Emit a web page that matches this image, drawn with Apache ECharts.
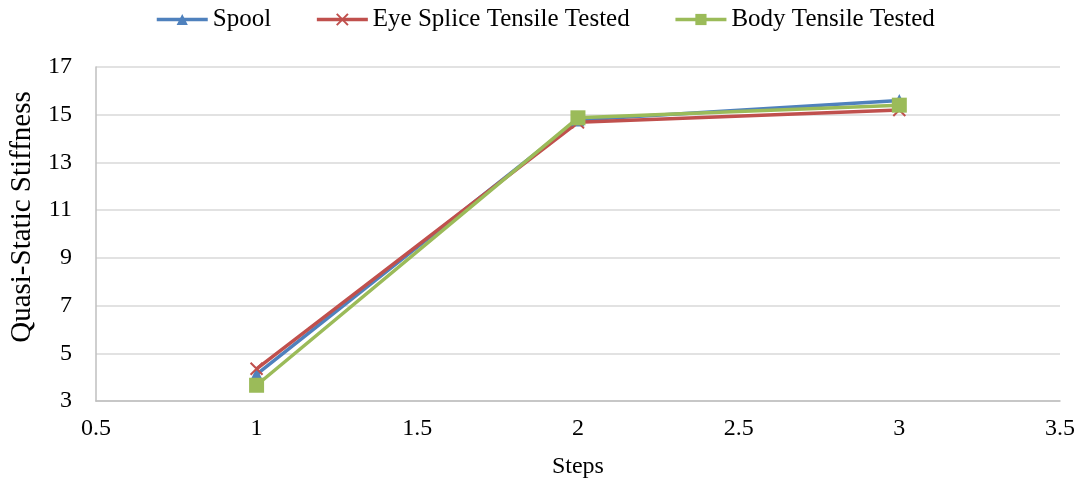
<!DOCTYPE html>
<html><head><meta charset="utf-8">
<script src="https://cdn.jsdelivr.net/npm/echarts@6/dist/echarts.min.js"></script>
<style>html,body{margin:0;padding:0;background:#fff}#c{width:1081px;height:484px}</style>
</head><body><div id="c"></div>
<script>
const steps = [1, 2, 3];
const spool = [4.12, 14.78, 15.6];
const eyeSplice = [4.35, 14.68, 15.2];
const bodyTensile = [3.66, 14.87, 15.4];
const seriesNames = ['Spool', 'Eye Splice Tensile Tested', 'Body Tensile Tested'];

const font = 'Liberation Serif, Times New Roman, serif';
const chart = echarts.init(document.getElementById('c'));
function mk(name, vals, color, symbol, size, extra) {
  return Object.assign({
    name: name, type: 'line', data: steps.map((s, i) => [s, vals[i]]),
    symbol: symbol, symbolSize: size,
    lineStyle: {color: color, width: 3.5}, itemStyle: {color: color}
  }, extra || {});
}
chart.setOption({
  animation: false,
  textStyle: {fontFamily: font},
  legend: {
    top: 2, left: 150, itemWidth: 51, itemHeight: 14, itemGap: 44,
    lineStyle: {width: 3.5},
    textStyle: {fontFamily: font, fontSize: 25, color: '#000'},
    data: seriesNames
  },
  grid: {left: 91, right: 21, top: 67, bottom: 80, containLabel: false},
  xAxis: {
    type: 'value', min: 0.5, max: 3.5, interval: 0.5,
    name: 'Steps', nameLocation: 'middle', nameGap: 54,
    nameTextStyle: {fontFamily: font, fontSize: 24, color: '#000'},
    axisLine: {show: true, lineStyle: {color: '#bfbfbf', width: 1.5}},
    axisTick: {show: false},
    splitLine: {show: false},
    axisLabel: {fontFamily: font, fontSize: 24, color: '#000', margin: 16}
  },
  yAxis: {
    type: 'value', min: 3, max: 17, interval: 2,
    name: 'Quasi-Static Stiffness', nameLocation: 'middle', nameGap: 57,
    nameTextStyle: {fontFamily: font, fontSize: 29, color: '#000', padding: [0, 0, 0, 34]},
    axisLine: {show: true, lineStyle: {color: '#bfbfbf', width: 1.5}},
    axisTick: {show: false},
    splitLine: {show: true, lineStyle: {color: '#d9d9d9', width: 1.5}},
    axisLabel: {fontFamily: font, fontSize: 24, color: '#000', margin: 24}
  },
  series: [
    mk(seriesNames[0], spool, '#4f81bd', 'triangle', 13),
    mk(seriesNames[1], eyeSplice, '#c0504d', 'path://M0,0 L10,10 M10,0 L0,10', 12,
       {itemStyle: {color: '#c0504d', borderColor: '#c0504d', borderWidth: 2}}),
    mk(seriesNames[2], bodyTensile, '#9bbb59', 'rect', 15)
  ]
});
</script></body></html>
